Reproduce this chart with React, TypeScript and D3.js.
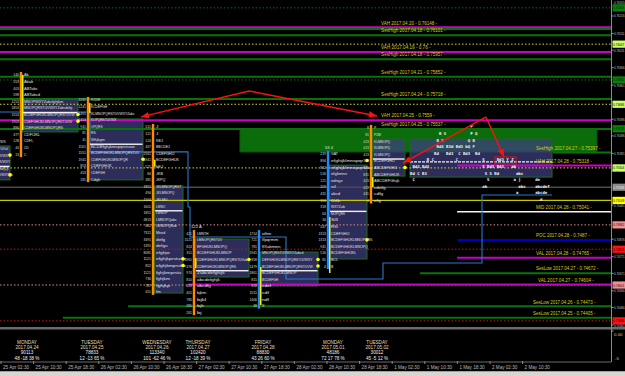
import React from 'react';
import * as d3 from 'd3';

// ---------- data ----------
const axisTickPrices = [0.76315, 0.76216, 0.76111, 0.76011, 0.75906, 0.75801, 0.75596, 0.75496, 0.75391, 0.75286, 0.75081, 0.74876, 0.74771, 0.74671, 0.74566, 0.74466, 0.74361];
const tagPrices = [0.76265, 0.76047, 0.75832, 0.75686, 0.75539, 0.75304, 0.75188, 0.75109, 0.74962, 0.74816, 0.74601, 0.74386];
const tagKinds = ['green', 'lime', 'green', 'lime', 'green', 'lime', 'gray', 'yellow', 'salmon', 'red', 'salmon', 'red'];
const levelPrices = [0.76265, 0.76047, 0.75832, 0.75686, 0.75304, 0.75188, 0.75109, 0.74962, 0.74816, 0.74601, 0.74386];
const levelKinds = ['grnDot', 'yelDot', 'grnDot', 'yelDot', 'yelDot', 'gray', 'yellow', 'salDot', 'redDot', 'salDot', 'redDot'];

const sessPrices = [0.76148, 0.76138, 0.76101, 0.76, 0.75957, 0.75852, 0.75718, 0.7559, 0.75537, 0.75397, 0.75318, 0.75041, 0.7487, 0.74765, 0.74672, 0.74604, 0.74473, 0.74405];
const sessKinds = ['vah', 'high', 'high', 'vah', 'high', 'high', 'high', 'vah', 'high', 'high', 'vah', 'mid', 'poc', 'val', 'low', 'val', 'low', 'low'];
const sessStart = [-1.5, -1.5, -1.5, -1.5, -1.5, -1.5, -1.5, -1.5, -1.5, 16.93, 13.99, 13.99, 14.0, 13.99, 12.85, 5.74, 3.9, 1.9];
const sessLabelT = [11.66, 11.66, 11.66, 11.66, 11.66, 11.66, 11.66, 11.66, 11.66, 16.41, 16.41, 16.41, 16.41, 16.41, 16.41, 16.47, 16.32, 16.32];
const sessLabels = [
  'VAH 2017.04.20 - 0.76148 -', '', 'SesHigh 2017.04.18 - 0.76101 -', 'VAH 2017.04.19 - 0.76 -',
  'SesHigh 2017.04.18 - 0.75957 -', 'SesHigh 2017.04.21 - 0.75852 -', 'SesHigh 2017.04.24 - 0.75718 -',
  'VAH 2017.04.25 - 0.7559 -', 'SesHigh 2017.04.25 - 0.75537 -', 'SesHigh 2017.04.27 - 0.75397 -',
  'VAH 2017.04.28 - 0.75318 -', 'MID 2017.04.28 - 0.75041 -', 'POC 2017.04.28 - 0.7487 -',
  'VAL 2017.04.28 - 0.74765 -', 'SesLow 2017.04.27 - 0.74672 -', 'VAL 2017.04.27 - 0.74604 -',
  'SesLow 2017.04.26 - 0.74473 -', 'SesLow 2017.04.25 - 0.74405 -'];

const timeLabels = ['25 Apr 02:30', '25 Apr 10:30', '25 Apr 18:30', '26 Apr 02:30', '26 Apr 10:30', '26 Apr 18:30', '27 Apr 02:30', '27 Apr 10:30', '27 Apr 18:30', '28 Apr 02:30', '28 Apr 10:30', '28 Apr 18:30', '1 May 02:30', '1 May 10:30', '1 May 18:30', '2 May 02:30', '2 May 10:30'];

const dayTimes = [0.798, 2.791, 4.785, 6.043, 8.037, 10.184, 11.534];
const dayNames = ['MONDAY', 'TUESDAY', 'WEDNESDAY', 'THURSDAY', 'FRIDAY', 'MONDAY', 'TUESDAY'];
const dayDates = ['2017.04.24', '2017.04.25', '2017.04.26', '2017.04.27', '2017.04.28', '2017.05.01', '2017.05.02'];
const dayVolumes = ['90113', '78833', '113340', '102420', '88830', '48186', '30012'];
const dayStats = ['48 -18 38 %', '12 -13 65 %', '101 -62 46 %', '12 -18 39 %', '43 26 60 %', '72 17 78 %', '45 -5 12 %'];

// market profiles
const profTimes = [-1.5, 0.613, 2.669, 4.663, 5.92, 7.914, 10.031, 11.35];
const profTops = [0.7546, 0.75862, 0.75712, 0.7555, 0.74913, 0.74913, 0.75388, 0.75544];
const profBarKinds = ['orange', 'orange', 'orange', 'orange', 'orange', 'blue', 'blue', 'orange'];
const profVaHigh = [0.75436, 0.75718, 0.75598, 0.75195, 0.74877, 0.74799, 0.75321, 0.75478];
const profVaLow = [0.75232, 0.7552, 0.75232, 0.74553, 0.74649, 0.74595, 0.74757, 0.75255];
const profVaEnd = [0.276, 2.362, 4.356, 5.583, 7.607, 9.724, 11.227, 12.393];
const profIbHigh = [0.7546, 0.75862, 0.75694, 0.75353, 0.74763, 0.74709, 0.75009, 0.75249];
const profIbLow = [0.7523, 0.75532, 0.75634, 0.75311, 0.74703, 0.74481, 0.74673, 0.75189];
const profPocRow = [4, 6, 7, 13, 6, 6, 9, 5];
const profDotRows = [[2, 5], [6, 7], [9], [20, 21], [4], [4, 5], [1, 13], [6]];
const profHead = ['', '', '', '', '122 A', '', '53 4', ''];
const profRows = [
  ['CDEFGHIJKLMNOPQRSTUVWX', 'BCDEFGHIJKLMNOPQRSTUVul', 'BCDEFGHIJKLMNOPQRSTUVWXY', 'BCDEFGHIJKLMNOPQRSTUVWXY', 'BCDEFGHIJKLMNOPQRSul(1)', 'CDEFGHIJKLMNOPQRSTUVWXYab', 'CDEFGH'],
  ['Ab', 'Abab', 'ABTabc', 'ABTabcd', 'MNOPWXYZabcfghjkm', 'MNOPQRSTUVWXYZabcdefg', 'BCDEFGHIJKLMNOPQRSTUVW', 'CDEFGHIJKLMNOPQRSTUVW', 'CDEFGHIJKLMNOPQRS', 'CDFIJKL', 'CDFL', 'CD', 'C'],
  ['KCDE', 'KCDEFGH', 'KLMNOPQRSTUVWXYZabc', 'KOPQRSTUVWX', 'OPQRS', 'RS', 'Whjkgm', 'BCDEfghjkmnpqrstuvw', 'BCDEFGHIJKLMNOPQRSTUV', 'CDEFGHIJKLMNOPQR', 'CDEFGHIJK', 'CDEFGH', 'Cdgh'],
  ['J', 'J', 'KEJ', 'BBCDEJ', 'CDEFGHIJ', 'BCDEFGHIJK', 'bEJ', 'JKB', 'JKPQ', 'JKLMNOPQRST', 'JKLMNOPQ', 'JKLMO', 'LMNO', 'LMNOP', 'LMNOPQabc', 'LMNOPQRab', 'Mnod', 'defg', 'defgu', 'efghjw', 'efghjkprstuvw', 'efghjkmprstuv', 'fghjkmprstu', 'fghjkm', 'fghjkp', 'fm'],
  ['LMNTH', 'LMNOPQRSTUV', 'EFGHIJKLMNOPQ', 'BCDEFGHIJKLMNOP', 'CDEFGHIJKLMNOPQRSTUVab', 'CDEFGHIJKLMNOPQRS', 'Zabcdefghijk', 'abcdefghjk', 'abcdfg', 'bjkm', 'bjkl', 'bjk', 'bj'],
  ['aftm', 'Ifpqrmm', 'IfXabmmn', 'MNOPQRSTUVWXYZabcd', 'DEFGHIJKLMNOPQRSTUVWXY', 'BCDEFGHIJKLMNOPQRSTUVW', 'BCDEFGHIJKLMNOP', 'BCDEFGH', 'cdef', 'cdf', 'ndf', 'W'],
  ['GAT', 'efghijklmnopqr', 'efghijklmnopqrstuv', 'efgkmnv', 'edngz', 'sl', 'abcd', 'Wdfb', 'WXYZab', 'NOPQRS', 'SIl', 'RSl', 'CDEFGHIJ', 'BCDEFGHIJKLMNOPQRS', 'BCDEFGHIJKLMNOPQ', 'BCDEFGHIJKL', 'BCL', 'B'],
  ['P', 'P2M', 'KLMNOPQ', 'KLMNOPQ', 'KLMNOPQ', 'BCDEFGHIJ', 'ABCDEFGHIJ', 'ABCDEFGHIJK', 'ABCDEFGhijk', 'cdefg', 'cdfg', 'efg'],
];
const profVols = [
  [],
  [140, 553, 403, 598, 1253, 1853, 1553, 1903, 896, 477, 128, 44, 13],
  [1241, 1241, 1491, 1453, 941, 81, 41, 1161, 1551, 1941, 853, 453, 181],
  [511, 121, 124, 467, 2161, 1941, 521, 84, 381, 1851, 494, 1564, 1601, 1851, 4813, 862, 7311, 3391, 1391, 8081, 1121, 852, 1121, 736, 787, 451],
  [421, 1521, 824, 351, 1961, 476, 974, 810, 423, 401, 785, 281, 261],
  [1714, 721, 781, 1941, 858, 1479, 1861, 815, 828, 1511, 1406, 48],
  [219, 894, 812, 516, 121, 119, 431, 116, 318, 64, 34, 547, 1313, 1313, 941, 516, 81, 4],
  [8, 81, 423, 423, 423, 113, 821, 831, 423, 421, 431, 4],
];

// split profile (current session)
const splitStart = 12.546;
const splitEnd = 16.902;
const splitTop = 0.7555;
const splitVaHigh = 0.75478;
const splitVaLow = 0.75249;
const splitRows = [
  '                         P',
  '            B S          P Q',
  '           B S          Q B',
  '           Bd3 B3d Bd3 bQ F',
  '          Bd   Bd3  C Bd3  Bd',
  '       B C         C          S     Bd3 Y Z',
  ' Bd3 Bd3                      S Bd3 Bd3   ab',
  'Bd C B3                        S S Bd       abc',
  ' C                              S          a j      de',
  '                              ab             abc    abcdef',
  '                                            a       abcde',
  '                                                      d',
];

const greenZone = [7.33, 18.28, 0.75538, 0.754];
const arrow1 = [[4.294, 0.7561], [7.607, 0.75766], [11.534, 0.75616]];
const arrow2From = [14.877, 0.7561];
const arrow2Tips = [[12.33, 0.75333], [15.43, 0.75369]];
const redBox = [15.15, 15.8, 0.7537, 0.75328];
const blueStep = [[-0.031, 0.7564], [2.73, 0.7564], [2.73, 0.754], [5.736, 0.754], [5.736, 0.75069], [5.798, 0.75069], [5.798, 0.74889], [8.742, 0.74889], [8.742, 0.74637], [11.718, 0.74637], [11.718, 0.74733], [14.755, 0.74733], [14.755, 0.75141], [16.902, 0.75141]];

// ---------- styles ----------
const levelStyle: Record<string, any> = {
  grnDot: { stroke: '#0a6e0a', dash: '1.5,2', w: 1 },
  yelDot: { stroke: '#d6d63a', dash: '1.5,2', w: 1 },
  salDot: { stroke: '#e08a8a', dash: '1.5,2', w: 1 },
  redDot: { stroke: '#d01010', dash: '1.5,2', w: 1 },
  gray: { stroke: '#4a4a4a', dash: null, w: 1.5 },
  yellow: { stroke: '#c8c800', dash: null, w: 1.2 },
};
const sessStyle: Record<string, any> = {
  vah: { stroke: '#cc00cc', w: 2 },
  val: { stroke: '#c800c8', w: 2 },
  high: { stroke: '#0a720a', w: 2 },
  low: { stroke: '#0a720a', w: 2 },
  mid: { stroke: '#f4f4f4', w: 1.6 },
  poc: { stroke: '#0000b8', w: 2.4 },
};
const tagStyle: Record<string, any> = {
  green: { bg: '#0c7c0c', fg: '#022a02' },
  lime: { bg: '#ccff66', fg: '#000' },
  gray: { bg: '#8a8a8a', fg: '#e8e8e8' },
  yellow: { bg: '#ffff00', fg: '#000' },
  salmon: { bg: '#f09090', fg: '#300' },
  red: { bg: '#ff1010', fg: '#300' },
};

const FONT = "'Liberation Sans', Arial, sans-serif";
const ROW = 0.000396;

function head(x0: number, y0: number, x1: number, y1: number, len = 8, w = 3.2) {
  const a = Math.atan2(y1 - y0, x1 - x0);
  const bx = x1 - len * Math.cos(a), by = y1 - len * Math.sin(a);
  const px = -Math.sin(a) * w, py = Math.cos(a) * w;
  return `${x1},${y1} ${bx + px},${by + py} ${bx - px},${by - py}`;
}

export default function App() {
  const RIGHT = 611;
  const MAINB = 327;
  const x = d3.scaleLinear().domain([0, 1]).range([1, 33.6]);
  const y = d3.scaleLinear().domain([0.74349, 0.76312]).range([MAINB, 0]);
  const line = d3.line<number[]>().x(d => x(d[0])).y(d => y(d[1]));

  const a1 = arrow1.map(p => [x(p[0]), y(p[1])]);
  const a2f = [x(arrow2From[0]), y(arrow2From[1])];

  return (
    <svg width={625} height={376} style={{ position: 'absolute', left: 0, top: 0, display: 'block' }} fontFamily={FONT}>
      <rect width={625} height={376} fill="#000" />
      <defs>
        <clipPath id="mainclip"><rect x={0} y={0} width={RIGHT} height={MAINB} /></clipPath>
      </defs>
      <g clipPath="url(#mainclip)">
        {/* green zone */}
        <rect x={x(greenZone[0])} y={y(greenZone[2])} width={x(greenZone[1]) - x(greenZone[0])} height={y(greenZone[3]) - y(greenZone[2])} fill="#0b6c0b" stroke="#0a5a0a" />

        {/* value area boxes */}
        {profTimes.map((t, i) => (
          <rect key={'box' + i} x={x(t) + 1.5} y={y(profVaHigh[i])} width={x(profVaEnd[i]) - x(t) - 1.5} height={y(profVaLow[i]) - y(profVaHigh[i])}
            fill="rgba(62,62,128,0.72)" stroke="#1c6a1c" strokeWidth={1} />
        ))}
        <rect x={x(splitStart)} y={y(splitVaHigh)} width={x(splitEnd) - x(splitStart)} height={y(splitVaLow) - y(splitVaHigh)}
          fill="rgba(62,62,128,0.72)" stroke="#1c6a1c" strokeWidth={1} />

        {/* full width levels */}
        {levelPrices.map((p, i) => {
          const s = levelStyle[levelKinds[i]];
          return <line key={'lv' + i} x1={0} x2={RIGHT} y1={y(p)} y2={y(p)} stroke={s.stroke} strokeWidth={s.w} strokeDasharray={s.dash || undefined} />;
        })}

        {/* session lines */}
        {sessPrices.map((p, i) => {
          const s = sessStyle[sessKinds[i]];
          return <line key={'ss' + i} x1={Math.max(0, x(sessStart[i]))} x2={RIGHT} y1={y(p)} y2={y(p)} stroke={s.stroke} strokeWidth={s.w} />;
        })}

        {/* blue step line */}
        <path d={line(blueStep) || ''} fill="none" stroke="#2a78cc" strokeWidth={1.1} />

        {/* POC highlights */}
        {profTimes.map((t, i) => {
          const ry = y(profTops[i] - profPocRow[i] * ROW);
          return <rect key={'poc' + i} x={x(t) + 2} y={ry - 2.6} width={x(profVaEnd[i]) - x(t) - 2.5} height={1.4} fill="#f0f0f0" />;
        })}
        <line x1={x(splitStart)} x2={x(splitEnd)} y1={y(0.75328) - 2} y2={y(0.75328) - 2} stroke="#f0f0f0" strokeWidth={1.2} strokeDasharray="3,1" />

        {/* profile bars */}
        {profTimes.map((t, i) => {
          const n = profRows[i].length;
          const y0 = y(profTops[i]) - 3;
          const y1 = y(profTops[i] - (n - 1) * ROW) + 3;
          return (
            <g key={'bar' + i}>
              <rect x={x(t) - 1.2} y={y0} width={2.4} height={y1 - y0} fill={profBarKinds[i] === 'orange' ? '#ff8c00' : '#1e8cff'} />
              <rect x={x(t) + 1} y={y(profIbHigh[i])} width={1.5} height={y(profIbLow[i]) - y(profIbHigh[i])} fill="#ffee00" />
            </g>
          );
        })}

        {/* profile texts */}
        {profTimes.map((t, i) => (
          <g key={'txt' + i}>
            {profRows[i].map((r, k) => {
              const ry = y(profTops[i] - k * ROW);
              const v = profVols[i][k];
              const vs = v === undefined ? '' : String(v);
              return (
                <g key={k}>
                  {vs && (
                    <text x={x(t) - 2} y={ry} dominantBaseline="central" textAnchor="end" fontSize={4} fill="#d8d8d8"
                      textLength={vs.length * 1.9} lengthAdjust="spacingAndGlyphs">{vs}</text>
                  )}
                  <text x={x(t) + 3} y={ry} dominantBaseline="central" fontSize={4.4} fill="#e0e0e0"
                    textLength={r.length * 2.3} lengthAdjust="spacingAndGlyphs">{r}</text>
                </g>
              );
            })}
            {profHead[i] && (
              <text x={x(t) - 3} y={y(profTops[i] + ROW)} dominantBaseline="central" fontSize={4.2} fill="#e0e0e0">{profHead[i]}</text>
            )}
            {profDotRows[i].map((k) => (
              <circle key={'d' + k} cx={x(profVaEnd[i])} cy={y(profTops[i] - k * ROW)} r={1.8} fill="#ffff00" />
            ))}
          </g>
        ))}

        {/* split profile letters */}
        {splitRows.map((r, k) => (
          <text key={'sp' + k} x={x(splitStart)} y={y(splitTop - k * ROW)} dominantBaseline="central" fontSize={4} xmlSpace="preserve"
            fontFamily="'DejaVu Sans Mono', monospace" fontWeight="bold" fill="#f2f2f2" style={{ whiteSpace: 'pre' }}>{r}</text>
        ))}

        {/* session labels */}
        {sessLabels.map((s, i) => s ? (
          <text key={'sl' + i} x={x(sessLabelT[i])} y={y(sessPrices[i]) - 2.8} fontSize={4.8} fill="#d8cc10"
            textLength={s.length * 2.15} lengthAdjust="spacingAndGlyphs">{s}</text>
        ) : null)}

        {/* red arrows */}
        <polyline points={a1.map(p => p.join(',')).join(' ')} fill="none" stroke="#ff1010" strokeWidth={1.4} />
        <polygon points={head(a1[1][0], a1[1][1], a1[0][0], a1[0][1])} fill="#ff1010" />
        <polygon points={head(a1[1][0], a1[1][1], a1[2][0], a1[2][1])} fill="#ff1010" />
        {arrow2Tips.map((p, i) => {
          const tx = x(p[0]), ty = y(p[1]);
          return (
            <g key={'a2' + i}>
              <line x1={a2f[0]} y1={a2f[1]} x2={tx} y2={ty} stroke="#ff1010" strokeWidth={1.4} />
              <polygon points={head(a2f[0], a2f[1], tx, ty)} fill="#ff1010" />
            </g>
          );
        })}
        <rect x={x(redBox[0])} y={y(redBox[2])} width={x(redBox[1]) - x(redBox[0])} height={y(redBox[3]) - y(redBox[2])} fill="none" stroke="#e01010" strokeWidth={1} />
      </g>

      {/* separators */}
      <rect x={0} y={MAINB} width={625} height={2.5} fill="#6a6a6a" />
      <line x1={RIGHT + 0.5} x2={RIGHT + 0.5} y1={0} y2={362} stroke="#8a8a8a" strokeWidth={1} />
      <line x1={0} x2={RIGHT} y1={362} y2={362} stroke="#6a6a6a" strokeWidth={1} />

      {/* right axis */}
      {axisTickPrices.map((p, i) => (
        <g key={'at' + i}>
          <line x1={RIGHT} x2={RIGHT + 2.5} y1={y(p)} y2={y(p)} stroke="#9a9a9a" />
          <text x={RIGHT + 3} y={Math.max(y(p), 2.5)} dominantBaseline="central" fontSize={4.2} fill="#c4c4c4"
            textLength={10.5} lengthAdjust="spacingAndGlyphs">{p.toFixed(5)}</text>
        </g>
      ))}
      {tagPrices.map((p, i) => {
        const s = tagStyle[tagKinds[i]];
        return (
          <g key={'tg' + i}>
            <rect x={RIGHT + 1.5} y={y(p) - 3.6} width={13} height={7.2} fill={s.bg} />
            <text x={RIGHT + 2.2} y={y(p)} dominantBaseline="central" fontSize={4.4} fill={s.fg}
              textLength={11} lengthAdjust="spacingAndGlyphs">{p.toFixed(5)}</text>
          </g>
        );
      })}

      {/* indicator subwindow */}
      <line x1={RIGHT} x2={RIGHT + 2.5} y1={331} y2={331} stroke="#9a9a9a" />
      <text x={RIGHT + 3} y={334} dominantBaseline="central" fontSize={4.4} fill="#c4c4c4">0.00</text>
      <text x={RIGHT + 4} y={358} dominantBaseline="central" fontSize={4.4} fill="#c4c4c4">-5</text>

      {/* day labels */}
      {dayTimes.map((t, i) => (
        <g key={'day' + i} fontSize={4.6} textAnchor="middle">
          <text x={x(t)} y={342} dominantBaseline="central" fill="#eadcb4">{dayNames[i]}</text>
          <text x={x(t)} y={347} dominantBaseline="central" fill="#eadcb4">{dayDates[i]}</text>
          <text x={x(t)} y={352.5} dominantBaseline="central" fill="#f0f0f0">{dayVolumes[i]}</text>
          <text x={x(t)} y={358} dominantBaseline="central" fill="#f0f0f0">{dayStats[i]}</text>
        </g>
      ))}

      {/* time axis */}
      {timeLabels.map((s, i) => (
        <g key={'tl' + i}>
          <line x1={x(i)} x2={x(i)} y1={361} y2={364} stroke="#8a8a8a" />
          <text x={x(i) + 2} y={367} dominantBaseline="central" fontSize={4.6} fill="#b8b8b8">{s}</text>
        </g>
      ))}

      {/* window frame */}
      <rect x={0} y={371.5} width={625} height={4.5} fill="#d8d6d0" />
      <line x1={0} x2={625} y1={371.5} y2={371.5} stroke="#a0a0a0" />
    </svg>
  );
}
